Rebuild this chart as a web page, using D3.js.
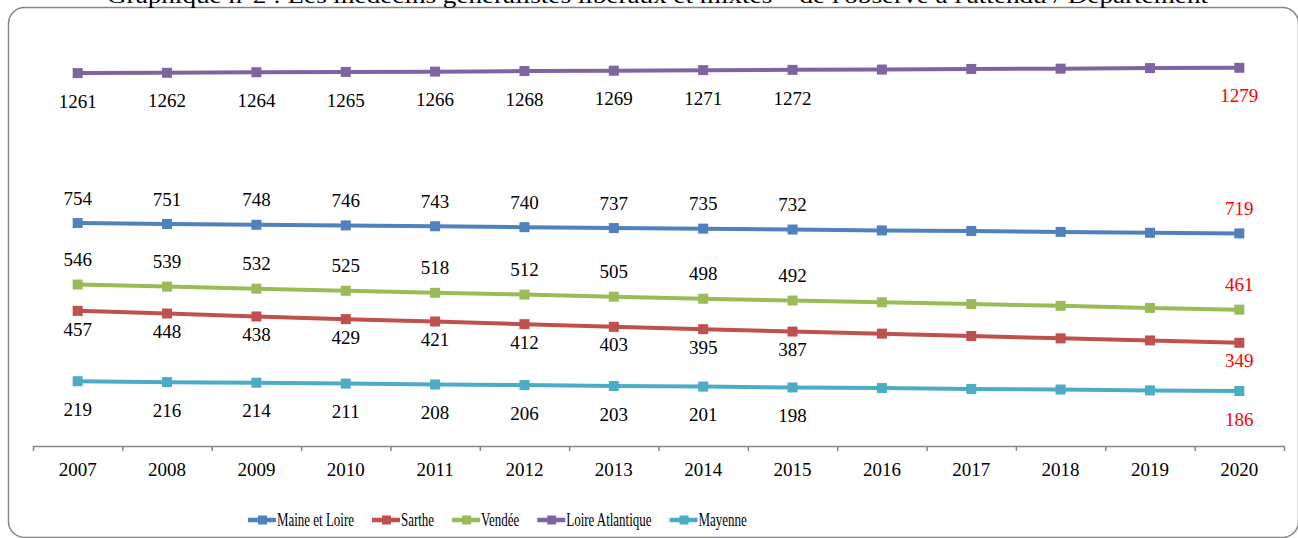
<!DOCTYPE html>
<html>
<head>
<meta charset="utf-8">
<script src="https://cdn.jsdelivr.net/npm/d3@7"></script>
<style>
  body { margin: 0; background: #fff; }
  svg text { font-family: "Liberation Serif", "Times New Roman", serif; }
  .axis path, .axis line { stroke: #868686; stroke-width: 1.5; }
  .axis text { font-size: 19px; fill: #000; font-family: "Liberation Serif", serif; }
</style>
</head>
<body>
<svg id="chart"></svg>
<script>
// data
let years = [2007, 2008, 2009, 2010, 2011, 2012, 2013, 2014, 2015, 2016, 2017, 2018, 2019, 2020];
let seriesNames = ['Maine et Loire', 'Sarthe', 'Vendée', 'Loire Atlantique', 'Mayenne'];
let maineEtLoire = [754, 751, 748, 746, 743, 740, 737, 735, 732, 729, 727, 724, 721, 719];
let sarthe = [457, 448, 438, 429, 421, 412, 403, 395, 387, 380, 372, 364, 357, 349];
let vendee = [546, 539, 532, 525, 518, 512, 505, 498, 492, 486, 480, 474, 467, 461];
let loireAtlantique = [1261, 1262, 1264, 1265, 1266, 1268, 1269, 1271, 1272, 1273, 1275, 1276, 1278, 1279];
let mayenne = [219, 216, 214, 211, 208, 206, 203, 201, 198, 196, 193, 191, 188, 186];
let labelledYears = [2007, 2008, 2009, 2010, 2011, 2012, 2013, 2014, 2015, 2020];
let yMax = 1400;
let titleText = "Graphique n°2 : Les médecins généralistes libéraux et mixtes – de l'observé à l'attendu / Département";

let config = {
  'svg': {},
  'plot': {},
  'legend': {}
};

config.svg.width = 1298;
config.svg.height = 538;

config.plot.left = 33;
config.plot.right = 1284;
config.plot.top = 32;
config.plot.bottom = 446;

config.legend.x = 248;
config.legend.y = 520;
config.legend.squeeze = 0.72;

// per series: colour and label offset (above / below the point)
let styles = {
  'Maine et Loire':   { color: '#4F81BD', dy: -25 },
  'Sarthe':           { color: '#C0504D', dy: 18 },
  'Vendée':           { color: '#9BBB59', dy: -25 },
  'Loire Atlantique': { color: '#8064A2', dy: 28 },
  'Mayenne':          { color: '#4BACC6', dy: 28 }
};

let values = {
  'Maine et Loire': maineEtLoire,
  'Sarthe': sarthe,
  'Vendée': vendee,
  'Loire Atlantique': loireAtlantique,
  'Mayenne': mayenne
};

let series = seriesNames.map(name => ({
  name: name,
  points: years.map((y, i) => ({ year: y, value: values[name][i] }))
}));

let svg = d3.select("svg#chart");
svg.attr('width', config.svg.width);
svg.attr('height', config.svg.height);

// frame + cut-off title
svg.append("rect")
  .attr("x", 8.5)
  .attr("y", 7.5)
  .attr("width", 1290)
  .attr("height", 530)
  .attr("rx", 16)
  .attr("fill", "none")
  .attr("stroke", "#868686")
  .attr("stroke-width", 1.5);

svg.append("text")
  .text(titleText)
  .attr("x", 107)
  .attr("y", 3)
  .attr("font-size", "20px")
  .attr("textLength", 1101)
  .attr("lengthAdjust", "spacingAndGlyphs");

let scale = {};

scale.x = d3.scaleBand()
  .domain(years)
  .range([config.plot.left, config.plot.right]);

scale.edge = d3.scaleLinear()
  .domain([0, years.length])
  .range([config.plot.left, config.plot.right]);

scale.y = d3.scaleLinear()
  .domain([0, yMax])
  .range([config.plot.bottom, config.plot.top]);

let cx = d => scale.x(d.year) + scale.x.bandwidth() / 2;

// x axis: labels centred in each band, ticks on the band edges
let axis = {};
axis.x = d3.axisBottom(scale.x).tickSize(0).tickPadding(17);
axis.edge = d3.axisBottom(scale.edge)
  .tickValues(d3.range(0, years.length + 1))
  .tickFormat('')
  .tickSize(5)
  .tickSizeOuter(0);

svg.append("g")
  .attr("class", "axis")
  .attr("transform", translate(0, config.plot.bottom))
  .call(axis.x)
  .call(g => g.select(".domain").remove());

svg.append("g")
  .attr("class", "axis")
  .attr("transform", translate(0, config.plot.bottom))
  .call(axis.edge);

// lines and markers
let line = d3.line()
  .x(cx)
  .y(d => scale.y(d.value));

let groups = svg.append("g").attr("id", "plot")
  .selectAll("g")
  .data(series)
  .enter()
  .append("g");

groups.append("path")
  .attr("d", d => line(d.points))
  .attr("fill", "none")
  .attr("stroke", d => styles[d.name].color)
  .attr("stroke-width", 4);

groups.selectAll("rect")
  .data(d => d.points.map(p => Object.assign({ name: d.name }, p)))
  .enter()
  .append("rect")
  .attr("x", d => cx(d) - 5)
  .attr("y", d => scale.y(d.value) - 5)
  .attr("width", 10)
  .attr("height", 10)
  .attr("fill", d => styles[d.name].color);

groups.selectAll("text")
  .data(d => d.points.filter(p => labelledYears.includes(p.year)).map(p => Object.assign({ name: d.name }, p)))
  .enter()
  .append("text")
  .text(d => d.value)
  .attr("x", cx)
  .attr("y", d => scale.y(d.value) + styles[d.name].dy)
  .attr("dy", "0.35em")
  .attr("text-anchor", "middle")
  .attr("font-size", "19px")
  .attr("fill", d => d.year === 2020 ? "#FF0000" : "#000");

drawLegend();

function drawLegend() {
  let legend = svg.append("g")
    .attr("id", "legend")
    .attr("transform", translate(config.legend.x, config.legend.y));

  let x = 0;
  seriesNames.forEach(name => {
    let item = legend.append("g").attr("transform", translate(x, 0));
    item.append("line")
      .attr("x1", 0).attr("x2", 28)
      .attr("stroke", styles[name].color)
      .attr("stroke-width", 4.5);
    item.append("rect")
      .attr("x", 10).attr("y", -4.5)
      .attr("width", 9).attr("height", 9)
      .attr("fill", styles[name].color);
    // the legend text is horizontally squeezed in the original
    let t = item.append("text")
      .text(name)
      .attr("transform", translate(29, 0) + " scale(" + config.legend.squeeze + ",1)")
      .attr("dy", "0.35em")
      .style("font-size", "18px");
    let w = t.node().getBBox().width * config.legend.squeeze;
    x += 29 + w + 18;
  });
}

function translate(x, y) {
  return 'translate(' + x + ',' + y + ')';
}
</script>
</body>
</html>
